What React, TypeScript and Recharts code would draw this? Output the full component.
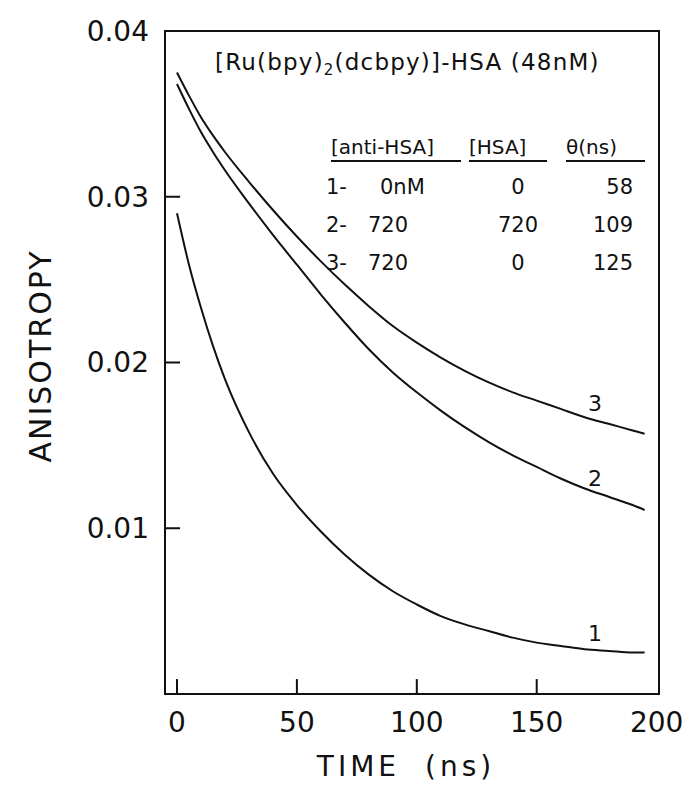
import { LineChart, Line, XAxis, YAxis, ReferenceArea, ReferenceLine } from 'recharts'

// time (ns) and anisotropy
const times = [0, 5, 10, 15, 20, 30, 40, 50, 60, 70, 80, 90, 100, 110, 120, 130, 140, 150, 160, 170, 180, 190, 195]
const curve1 = [0.0290, 0.0259, 0.0233, 0.0210, 0.0190, 0.0158, 0.0133, 0.0114, 0.0098, 0.0084, 0.0072, 0.0062, 0.0054, 0.0047, 0.0042, 0.0038, 0.0034, 0.0031, 0.0029, 0.0027, 0.0026, 0.0025, 0.0025]
const curve2 = [0.0368, 0.0353, 0.0339, 0.0327, 0.0316, 0.0296, 0.0277, 0.0259, 0.0241, 0.0224, 0.0208, 0.0194, 0.0182, 0.0171, 0.0161, 0.0152, 0.0144, 0.0137, 0.0130, 0.0124, 0.0119, 0.0114, 0.0111]
const curve3 = [0.0375, 0.0361, 0.0348, 0.0337, 0.0327, 0.0309, 0.0292, 0.0276, 0.0261, 0.0247, 0.0234, 0.0222, 0.0212, 0.0203, 0.0195, 0.0188, 0.0182, 0.0177, 0.0172, 0.0167, 0.0163, 0.0159, 0.0157]

const xTicks = [0, 50, 100, 150, 200]
const yTicks = [0.01, 0.02, 0.03, 0.04]
const innerXTicks = [0, 50, 100, 150]
const innerYTicks = [0.01, 0.02, 0.03]

const tableRows = [
  { id: '1-', anti: '0nM', hsa: '0', theta: '58' },
  { id: '2-', anti: '720', hsa: '720', theta: '109' },
  { id: '3-', anti: '720', hsa: '0', theta: '125' },
]

const data = times.map((t, i) => ({ t, r1: curve1[i], r2: curve2[i], r3: curve3[i] }))

const FONT = '"DejaVu Sans", sans-serif'
const INK = '#111'

export default function App() {
  const tickStyle = { fontFamily: FONT, fontSize: 28, fill: INK }
  return (
    <div style={{ position: 'relative', width: 680, height: 777, background: '#fff' }}>
      <LineChart width={680} height={770} data={data} margin={{ top: 23, right: 29, left: 0, bottom: 0 }}>
        <XAxis
          dataKey="t"
          type="number"
          domain={[-5, 201]}
          ticks={xTicks}
          allowDataOverflow
          height={84}
          tickLine={false}
          axisLine={false}
          tickMargin={12}
          tick={tickStyle}
        />
        <YAxis
          type="number"
          domain={[0, 0.04]}
          ticks={yTicks}
          width={157}
          tickLine={false}
          axisLine={false}
          tickMargin={10}
          tick={tickStyle}
          tickFormatter={(v: number) => v.toFixed(2)}
        />
        <ReferenceArea x1={-5} x2={201} y1={0} y2={0.04} fill="none" stroke={INK} strokeWidth={2} />
        {innerXTicks.map((x) => (
          <ReferenceLine key={'xt' + x} segment={[{ x, y: 0 }, { x, y: 0.0009 }]} stroke={INK} strokeWidth={2} />
        ))}
        {innerYTicks.map((y) => (
          <ReferenceLine key={'yt' + y} segment={[{ x: -5, y }, { x: 1.3, y }]} stroke={INK} strokeWidth={2} />
        ))}
        <Line type="monotone" dataKey="r1" stroke={INK} strokeWidth={2} dot={false} isAnimationActive={false} />
        <Line type="monotone" dataKey="r2" stroke={INK} strokeWidth={2} dot={false} isAnimationActive={false} />
        <Line type="monotone" dataKey="r3" stroke={INK} strokeWidth={2} dot={false} isAnimationActive={false} />
      </LineChart>

      <svg width={680} height={777} style={{ position: 'absolute', left: 0, top: 0, pointerEvents: 'none' }}>
        <g fontFamily={FONT} fill={INK}>
          <text x={207} y={62} fontSize={23} letterSpacing={1.2}>
            [Ru(bpy)<tspan fontSize={15} dy={5}>2</tspan><tspan dy={-5}>(dcbpy)]-HSA (48nM)</tspan>
          </text>

          <text x={323} y={146} fontSize={20}>[anti-HSA]</text>
          <text x={461} y={146} fontSize={20}>[HSA]</text>
          <text x={558} y={146} fontSize={20}>θ(ns)</text>
          <line x1={323} x2={453} y1={153} y2={153} stroke={INK} strokeWidth={2} />
          <line x1={461} x2={539} y1={153} y2={153} stroke={INK} strokeWidth={2} />
          <line x1={558} x2={637} y1={153} y2={153} stroke={INK} strokeWidth={2} />

          {tableRows.map((r, i) => (
            <g key={r.id} fontSize={21}>
              <text x={318} y={186 + i * 38}>{r.id}</text>
              <text x={r.anti === '0nM' ? 372 : 360} y={186 + i * 38}>{r.anti}</text>
              <text x={510} y={186 + i * 38} textAnchor="middle">{r.hsa}</text>
              <text x={625} y={186 + i * 38} textAnchor="end">{r.theta}</text>
            </g>
          ))}

          <text x={587} y={403} fontSize={22} textAnchor="middle">3</text>
          <text x={587} y={478} fontSize={22} textAnchor="middle">2</text>
          <text x={587} y={633} fontSize={22} textAnchor="middle">1</text>

          <text x={398} y={768} fontSize={28} textAnchor="middle" letterSpacing={4} wordSpacing={12}>TIME (ns)</text>
          <text
            x={32}
            y={348}
            fontSize={30}
            textAnchor="middle"
            letterSpacing={2}
            transform="rotate(-90 32 348)"
            dominantBaseline="central"
          >
            ANISOTROPY
          </text>
        </g>
      </svg>
    </div>
  )
}
